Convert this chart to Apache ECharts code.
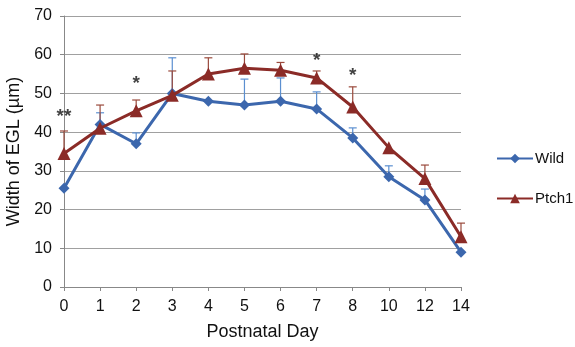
<!DOCTYPE html>
<html>
<head>
<meta charset="utf-8">
<script src="https://cdn.jsdelivr.net/npm/echarts@6/dist/echarts.min.js"></script>
<style>
html,body{margin:0;padding:0;background:#fff;}
#main{width:575px;height:347px;}
</style>
</head>
<body>
<div id="main"></div>
<script>
var days = ['0', '1', '2', '3', '4', '5', '6', '7', '8', '10', '12', '14'];
var wild = [25.5, 42, 37, 50, 48, 47, 48, 46, 38.5, 28.5, 22.5, 9];
var ptch1 = [34.5, 41, 45.5, 49.5, 55, 56.5, 56, 54, 46.5, 36, 28, 13];
// upper end of the error bars (null = not visible)
var wildErr = [null, 45, 39.8, 59.2, null, 53.7, 54, 50.4, 41.1, 31.3, 25.3, null];
var ptchErr = [40.3, 47, 48.3, 55.8, 59.2, 60.2, 58, 55.8, 51.7, null, 31.5, 16.5];
// significance stars
var starIdx = [0, 2, 7, 8];
var starY = [44, 52.5, 58.5, 54.5];
var starText = ['**', '*', '*', '*'];

var blue = '#3c67ad';
var red = '#8b2b27';

var myChart = echarts.init(document.getElementById('main'));

function errData(vals, errs) {
    var out = [];
    for (var i = 0; i < vals.length; i++) {
        if (errs[i] != null) out.push([i, vals[i], errs[i]]);
    }
    return out;
}

function errRender(color) {
    return function (params, api) {
        var p0 = api.coord([api.value(0), api.value(1)]);
        var p1 = api.coord([api.value(0), api.value(2)]);
        var w = 4;
        return {
            type: 'group',
            children: [
                {type: 'line', shape: {x1: p0[0], y1: p0[1], x2: p1[0], y2: p1[1]}, style: {stroke: color, lineWidth: 1.2}},
                {type: 'line', shape: {x1: p1[0] - w, y1: p1[1], x2: p1[0] + w, y2: p1[1]}, style: {stroke: color, lineWidth: 1.2}}
            ]
        };
    };
}

var stars = [];
for (var i = 0; i < starIdx.length; i++) {
    stars.push({value: [starIdx[i], starY[i]], label: {formatter: starText[i]}});
}

var option = {
    animation: false,
    textStyle: {fontFamily: 'Liberation Sans'},
    grid: {left: 64, right: 114, top: 16, bottom: 60, outerBoundsMode: 'none', containLabel: false},
    legend: {
        orient: 'vertical',
        left: 491,
        top: 146,
        itemGap: 25,
        itemWidth: 36,
        itemHeight: 12,
        textStyle: {fontSize: 15, color: '#111', fontFamily: 'Liberation Sans', padding: [0, 0, 0, -3]},
        data: ['Wild', 'Ptch1']
    },
    xAxis: {
        type: 'category',
        data: days,
        boundaryGap: false,
        name: 'Postnatal Day',
        nameLocation: 'middle',
        nameGap: 36,
        nameTextStyle: {fontSize: 18, color: '#111'},
        axisLine: {lineStyle: {color: '#888'}},
        axisTick: {show: true, length: 4, lineStyle: {color: '#888'}},
        axisLabel: {fontSize: 16, color: '#111', margin: 12}
    },
    yAxis: {
        type: 'value',
        min: 0,
        max: 70,
        interval: 10,
        name: 'Width of EGL (µm)',
        nameLocation: 'middle',
        nameGap: 38,
        nameTextStyle: {fontSize: 18, color: '#111'},
        axisLine: {show: true, lineStyle: {color: '#888'}},
        axisTick: {show: true, length: 4, lineStyle: {color: '#888'}},
        axisLabel: {fontSize: 16, color: '#111', margin: 12},
        splitLine: {lineStyle: {color: '#a0a0a0', width: 1}}
    },
    series: [
        {
            name: 'WildErr',
            type: 'custom',
            renderItem: errRender('#5b8fd0'),
            data: errData(wild, wildErr),
            z: 1
        },
        {
            name: 'PtchErr',
            type: 'custom',
            renderItem: errRender('#9a4a3c'),
            data: errData(ptch1, ptchErr),
            z: 1
        },
        {
            name: 'Wild',
            type: 'line',
            data: wild,
            symbol: 'diamond',
            symbolSize: 11,
            lineStyle: {color: blue, width: 3},
            itemStyle: {color: blue},
            z: 3
        },
        {
            name: 'Ptch1',
            type: 'line',
            data: ptch1,
            symbol: 'triangle',
            symbolSize: 13,
            lineStyle: {color: red, width: 3},
            itemStyle: {color: red},
            z: 4
        },
        {
            name: 'stars',
            type: 'scatter',
            data: stars,
            symbolSize: 0,
            label: {show: true, position: 'inside', fontSize: 19, fontWeight: 'bold', color: '#111'},
            z: 5
        }
    ]
};
myChart.setOption(option);
</script>
</body>
</html>
